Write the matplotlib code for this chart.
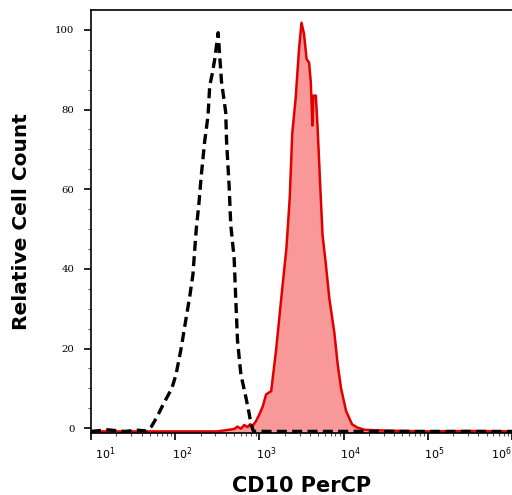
import numpy as np
import matplotlib.pyplot as plt
from matplotlib.transforms import ScaledTranslation

# CD10 PerCP histogram, x read as log10(intensity), y as relative cell count
iso_log = [1.0, 1.2, 1.4, 1.55, 1.66, 1.72, 1.78, 1.87, 1.96, 2.01, 2.07, 2.13,
           2.17, 2.21, 2.25, 2.28, 2.31, 2.35, 2.39, 2.41, 2.44, 2.47, 2.51,
           2.53, 2.55, 2.60, 2.61, 2.64, 2.66, 2.70, 2.72, 2.74, 2.78, 2.84,
           2.88, 2.90, 2.93, 3.1, 3.5, 4.0, 6.0]
iso_count = [-0.8, -0.4, -0.8, -0.5, -0.7, 0.5, 2.7, 6.5, 10, 13.5, 20, 27.7,
             32.7, 38.5, 50, 56, 63.5, 72, 78.5, 86, 89, 92.7, 99.3,
             93, 87, 79.3, 72, 61, 51, 42.7, 32, 22, 13.5, 7.7,
             3.5, 1.0, -0.8, -0.8, -0.8, -0.8, -0.8]

cd10_log = [1.0, 1.5, 2.0, 2.5, 2.70, 2.74, 2.78, 2.82, 2.86, 2.89, 2.92, 2.96,
            3.00, 3.04, 3.08, 3.14, 3.20, 3.26, 3.32, 3.36, 3.39, 3.43, 3.47,
            3.50, 3.53, 3.56, 3.59, 3.61, 3.63, 3.64, 3.67, 3.69, 3.72, 3.75,
            3.79, 3.83, 3.89, 3.93, 3.97, 4.03, 4.10, 4.16, 4.25, 4.5, 5.0,
            5.5, 6.0]
cd10_count = [-0.8, -0.8, -0.8, -0.8, -0.2, 0.4, -0.1, 0.8, 0.3, 1.0, 0.6, 1.8,
              3.5, 5.5, 8.5, 9.3, 20, 32.7, 45, 57.7, 74, 82.7, 95,
              101.8, 99, 92.7, 91.8, 87, 76, 83.5, 83.5, 76, 62, 48.5,
              41, 32.7, 24, 16, 10, 4.3, 1.0, 0.2, -0.4, -0.6, -0.8,
              -0.7, -0.8]

x_ticks = [1e1, 1e2, 1e3, 1e4, 1e5, 1e6]
x_tick_labels = [r'$10^{1}$', r'$10^{2}$', r'$10^{3}$', r'$10^{4}$', r'$10^{5}$', r'$10^{6}$']
y_ticks = [0, 20, 40, 60, 80, 100]

fig = plt.figure(figsize=(5.12, 4.95), dpi=100)
ax = fig.add_axes([91 / 512, 1 - 433 / 495, 421 / 512, 423 / 495])

iso_x = 10 ** np.array(iso_log)
cd10_x = 10 ** np.array(cd10_log)

ax.fill_between(cd10_x, -1.2, cd10_count, color='#f89898', lw=0, zorder=1)
ax.plot(cd10_x, cd10_count, color='#e00000', lw=1.8, zorder=2)
ax.plot(iso_x, iso_count, color='black', lw=2.4, ls=(0, (3, 1.6)), zorder=3)

ax.set_xscale('log')
ax.set_xlim(10, 1e6)
ax.set_ylim(-1.2, 105)

ax.set_xticks(x_ticks)
ax.set_xticklabels(x_tick_labels, fontfamily='DejaVu Serif', fontsize=8)
ax.set_yticks(y_ticks)
ax.set_yticklabels([str(v) for v in y_ticks], fontfamily='DejaVu Serif', fontsize=7.3)
ax.set_yticks(np.arange(0, 105, 5), minor=True)

ax.tick_params(axis='both', which='major', direction='out', length=5, width=1.2, color='black')
ax.tick_params(axis='both', which='minor', direction='out', length=2.5, width=0.8, color='#555555')
ax.tick_params(axis='x', which='major', pad=4)
ax.tick_params(axis='y', which='major', pad=7)

labels = ax.get_xticklabels()
for i, lab in enumerate(labels):
    if i == 0:
        lab.set_ha('left')
        lab.set_transform(lab.get_transform() + ScaledTranslation(3 / 72, 0, fig.dpi_scale_trans))
    elif i == len(labels) - 1:
        lab.set_ha('right')
    else:
        lab.set_transform(lab.get_transform() + ScaledTranslation(5 / 72, 0, fig.dpi_scale_trans))

for s in ['left', 'bottom', 'top']:
    ax.spines[s].set_linewidth(1.2)
ax.spines['right'].set_visible(False)

ax.set_xlabel('CD10 PerCP', fontsize=15, fontweight='bold', labelpad=10)
ax.set_ylabel('Relative Cell Count', fontsize=14.5, fontweight='bold', labelpad=17)

fig.savefig('out.png', dpi=100)
